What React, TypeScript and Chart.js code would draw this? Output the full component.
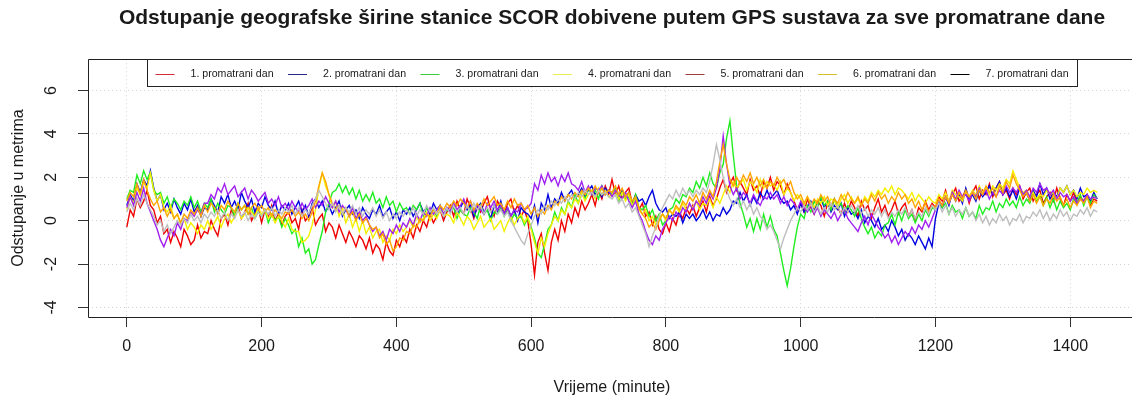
import { useEffect, useRef } from "react";
import { Chart, registerables } from "chart.js";

Chart.register(...registerables);

const CHART_TITLE =
  "Odstupanje geografske širine stanice SCOR dobivene putem GPS sustava za sve promatrane dane";
const X_TITLE = "Vrijeme (minute)";
const Y_TITLE = "Odstupanje u metrima";
const X_TICKS = [0, 200, 400, 600, 800, 1000, 1200, 1400];
const Y_TICKS = [-4, -2, 0, 2, 4, 6];
const X_MIN = -57.6;
const X_MAX = 1497.6;
const Y_MIN = -4.44;
const Y_MAX = 7.44;
const SAMPLE_STEP_MIN = 5;

const SERIES_LABELS = [
  "1. promatrani dan",
  "2. promatrani dan",
  "3. promatrani dan",
  "4. promatrani dan",
  "5. promatrani dan",
  "6. promatrani dan",
  "7. promatrani dan",
];
const LINE_COLORS = ["#f00000", "#0000e0", "#20ee20", "#f4f000", "#a020f0", "#ffa500", "#bebebe"];
const LEGEND_COLORS = ["#d8283c", "#2a2a8c", "#3acc3a", "#eeee50", "#a03c3c", "#d4c028", "#000000"];

// deviations in metres, one value every 5 minutes (0 ... 1440)
const DAY1 = [
  -0.3, 0.5, 0.2, 1.0, 0.6, 0.9, 1.4, 0.7, 0.5, -0.1, 0.2, -0.6, -0.4, -1.0, -0.5, -0.8, -1.2, -0.4, -0.7, -1.1, -0.9, -0.2, -0.8, -0.5,
  -0.6, 0.0, -0.4, -0.7, 0.1, 0.3, -0.2, 0.5, 0.2, 0.7, 0.1, 0.4, 0.8, 0.0, 0.3, 0.6, -0.1, 0.5, 0.2, 0.7, 0.0, 0.3, -0.2, 0.2,
  0.4, -0.1, 0.1, -0.4, 0.5, 0.0, 0.2, 0.6, -0.2, 0.1, 0.3, -0.5, -0.1, -0.3, -0.8, -0.2, -0.6, -1.0, -0.5, -0.8, -1.2, -0.7, -0.9, -1.3,
  -0.8, -1.5, -1.1, -1.3, -1.8, -1.0, -1.4, -1.6, -0.9, -1.2, -0.7, -1.0, -0.4, -0.8, -0.2, -0.5, 0.0, -0.3, 0.3, -0.1, 0.2, 0.5, 0.0, 0.4,
  0.7, 0.2, 0.9, 0.5, 0.3, 1.0, 0.6, 0.1, 0.7, 0.4, 0.8, 1.1, 0.5, 0.2, 0.9, 0.6, 0.3, 0.8, 1.0, 0.4, 0.7, 0.2, 0.5, 0.0,
  -1.1, -2.5, -1.0, -0.6, -1.5, -2.3, -1.0, -0.4, -0.9, 0.0, -0.5, 0.3, -0.1, 0.6, 0.2, 0.9, 0.5, 0.8, 1.2, 0.7, 1.4, 1.0, 1.6, 1.2,
  1.9, 1.2, 1.6, 1.0, 1.3, 1.5, 0.8, 1.1, 0.5, 0.8, 0.2, 0.4, -0.2, 0.2, -0.4, -0.6, -0.1, -0.5, 0.1, -0.2, 0.4, 0.1, 0.6, 0.3,
  0.7, 0.2, 0.6, 0.9, 0.4, 1.1, 0.7, 1.0, 1.5, 1.9, 1.3, 1.7, 2.0, 1.4, 1.8, 1.5, 1.2, 1.9, 1.4, 1.6, 1.1, 1.8, 1.5, 2.0,
  1.4, 1.8, 1.6, 1.2, 1.7, 1.3, 0.9, 0.5, 0.8, 0.4, 1.0, 0.6, 0.3, 0.9, 0.7, 0.2, 0.8, 0.5, 1.0, 0.6, 0.3, 0.8, 0.4, 0.9,
  0.6, 0.2, 0.9, 0.5, 0.7, 0.1, 0.6, 1.0, 0.4, 0.7, 0.2, 0.5, 0.9, 0.3, 0.6, 0.8, 0.2, 0.5, 0.0, 0.6, 0.4, 0.9, 0.5, 0.8,
  0.6, 1.1, 0.9, 1.4, 0.8, 1.2, 1.5, 0.9, 1.1, 1.4, 0.8, 1.3, 1.6, 1.0, 1.4, 1.2, 1.7, 1.1, 1.5, 1.8, 1.2, 1.4, 1.0, 1.5,
  1.2, 1.6, 1.0, 1.3, 1.5, 0.9, 1.2, 1.4, 0.8, 1.1, 1.3, 0.9, 1.5, 1.0, 0.7, 1.2, 0.9, 1.3, 0.8, 1.1, 0.9, 1.2, 0.7, 1.0,
  0.9,
];
const DAY2 = [
  0.7, 1.2, 0.9, 1.7, 1.3, 1.9, 1.6, 2.3, 1.5, 0.9, 1.2, 0.5, 0.8, 0.4, 1.0, 0.6, 0.3, 0.8, 0.5, 1.0, 0.4, 0.7, 0.2, 0.6,
  0.5, 1.0, 0.7, 0.4, 1.1, 0.8, 1.2, 0.6, 0.9, 0.5, 1.3, 0.9, 0.6, 1.0, 0.4, 0.8, 0.6, 1.1, 0.7, 0.5, 0.9, 0.3, 0.7, 0.5,
  0.8, 0.3, 0.6, 0.9, 0.4, 0.7, 0.2, 0.8, 1.0, 0.6, 0.9, 0.4, 0.7, 0.3, 0.6, 0.9, 0.2, 0.5, 0.7, 0.3, 0.5, 0.1, 0.6, 0.3,
  0.1, 0.5, 0.3, 0.7, 0.2, 0.4, 0.6, 0.1, 0.4, 0.0, 0.5, 0.3, 0.6, 0.2, 0.5, 0.8, 0.4, 0.6, 0.3, 0.8, 0.5, 0.7, 0.2, 0.6,
  0.4, 0.8, 0.3, 0.6, 0.9, 0.5, 0.7, 0.2, 0.6, 0.8, 0.4, 0.5, 0.1, 0.7, 0.4, 0.9, 0.3, 0.6, 0.2, 0.5, 0.0, 0.6, 0.4, 0.3,
  0.1, 0.7, -0.1, 0.8, 0.5, 1.2, 0.6, 1.0, 0.8, 1.3, 0.9, 1.2, 1.4, 1.0, 1.2, 1.5, 1.1, 1.4, 1.6, 1.2, 1.4, 1.1, 1.5, 1.3,
  1.2, 1.5, 1.0, 1.4, 1.1, 1.3, 0.8, 1.2, 0.9, 1.0, 0.7, 1.1, 1.4, 0.8, 0.5, 0.4, 0.6, 0.1, 0.3, 0.2, 0.4, -0.1, 0.3, 0.1,
  0.3, 0.0, 0.2, 0.5, 0.1, 0.4, 0.0, 0.3, 0.2, 0.6, 0.3, 0.5, 0.9, 0.8, 1.3, 0.9, 1.2, 0.7, 1.1, 0.8, 1.3, 1.0, 1.4, 1.0,
  1.2, 1.4, 1.0, 0.8, 0.9, 0.5, 0.7, 0.3, 0.8, 0.4, 0.6, 0.9, 0.5, 0.8, 1.0, 0.6, 0.9, 0.4, 0.7, 0.5, 0.8, 0.2, 0.6, 0.3,
  0.4, 0.1, 0.5, -0.1, 0.2, 0.0, -0.3, 0.1, -0.4, -0.2, -0.5, 0.0, -0.3, -0.7, -0.4, -0.9, -0.6, -0.8, -1.1, -0.7, -1.0, -1.3, -0.8, -1.2,
  0.1, 0.8, 0.6, 1.1, 0.7, 1.3, 0.9, 1.2, 0.8, 1.5, 1.0, 1.2, 0.9, 1.4, 1.1, 1.3, 1.6, 1.2, 1.5, 1.8, 1.2, 1.5, 1.1, 1.4,
  1.0, 1.5, 1.2, 1.3, 0.9, 1.4, 1.1, 1.7, 1.2, 1.5, 1.0, 1.3, 1.1, 1.5, 1.3, 1.6, 1.2, 1.4, 1.0, 1.5, 1.1, 1.2, 0.9, 1.3,
  1.0,
];
const DAY3 = [
  1.0, 1.4, 1.3, 2.1, 1.7, 2.3, 1.9, 2.2, 1.4, 1.2, 1.3, 0.8, 1.1, 0.6, 1.0, 0.8, 0.5, 0.9, 0.7, 1.1, 0.6, 0.9, 0.4, 0.8,
  0.6, 1.0, 0.4, 0.8, 0.5, 0.3, 0.7, 0.6, 0.2, 0.8, 0.5, 0.7, 0.3, 0.6, 0.1, 0.4, 0.2, 0.5, -0.1, 0.3, 0.0, 0.2, -0.3, 0.1,
  -0.2, -0.6, -0.4, -1.2, -0.8, -1.5, -1.3, -2.0, -1.8, -1.1, -0.5, 0.4, 0.8, 1.3, 1.4, 1.7, 1.3, 1.6, 1.2, 1.5, 1.0, 1.4, 0.9, 1.2,
  0.9, 1.3, 0.8, 1.0, 0.6, 1.1, 0.7, 0.9, 0.4, 0.8, 0.5, 0.6, 0.3, 0.7, 0.5, 0.8, 0.2, 0.6, 0.4, 0.5, 0.2, 0.7, 0.3, 0.5,
  0.4, 0.6, 0.1, 0.5, 0.3, 0.2, 0.6, 0.4, 0.1, 0.7, 0.3, 0.5, 0.0, 0.4, 0.3, 0.6, 0.2, 0.5, 0.0, 0.3, 0.1, 0.2, -0.2, 0.1,
  -0.3, -0.8, -1.5, -1.7, -1.1, -0.4, -0.2, 0.4, 0.0, 0.6, 0.3, 0.9, 0.6, 1.2, 0.8, 1.3, 1.0, 1.5, 1.2, 1.4, 1.0, 1.6, 1.2, 1.4,
  1.2, 1.5, 0.9, 1.3, 1.0, 1.1, 0.7, 1.2, 0.6, 0.5, 0.7, 0.2, 0.5, 0.0, 0.3, -0.2, 0.0, 0.5, 0.6, 1.0, 0.8, 1.2, 1.1, 1.5,
  1.3, 1.8, 1.5, 2.0, 1.6, 2.2, 1.7, 1.5, 2.2, 2.6, 3.8, 4.6, 3.0, 1.6, 0.8, 0.3, -0.3, 0.1, -0.5, 0.1, -0.4, 0.3, -0.3, 0.2,
  -0.4, -0.7, -1.5, -2.3, -3.0, -2.2, -1.2, -0.3, 0.3, 0.1, 0.7, 0.4, 0.9, 0.6, 1.1, 0.7, 0.9, 0.5, 1.0, 0.6, 0.8, 0.4, 0.7, 0.5,
  0.2, 0.6, 0.1, -0.3, -0.6, -0.3, -0.8, -0.5, -0.7, -0.2, -0.1, 0.3, -0.2, 0.4, 0.0, 0.5, 0.1, 0.3, -0.1, 0.3, 0.0, 0.5, 0.2, 0.6,
  0.5, 0.9, 0.6, 0.8, 0.3, 0.7, 0.4, 0.5, 0.1, 0.6, 0.2, 0.4, 0.1, 0.7, 0.3, 0.6, 0.5, 0.9, 0.4, 0.8, 0.6, 1.0, 0.7, 0.9,
  0.6, 1.1, 0.7, 1.0, 0.8, 1.3, 0.9, 1.2, 0.7, 1.1, 0.6, 1.0, 0.5, 0.9, 0.6, 0.8, 0.5, 1.0, 0.8, 1.2, 0.7, 1.1, 0.8, 1.2,
  1.0,
];
const DAY4 = [
  0.5, 1.1, 0.8, 1.5, 1.2, 1.8, 1.5, 2.2, 1.4, 0.9, 1.2, 0.6, 0.4, 0.7, 0.1, 0.3, -0.2, 0.1, -0.4, -0.1, -0.3, -0.6, -0.2, -0.4,
  0.0, -0.4, -0.1, 0.2, -0.3, 0.1, 0.3, -0.1, 0.2, 0.5, 0.1, 0.3, 0.6, 0.4, 0.2, 0.6, 0.3, 0.5, 0.1, 0.3, -0.1, 0.2, 0.0, -0.3,
  0.1, -0.4, -0.5, -0.5, -1.0, -0.9, -0.7, -0.2, 0.5, 1.5, 2.2, 1.6, 1.2, 0.6, 0.9, 0.2, 0.6, -0.1, 0.3, -0.3, 0.1, -0.5, 0.0, -0.6,
  -0.3, -0.8, -0.5, -0.4, -1.0, -0.7, -0.9, -0.4, -0.6, -0.2, -0.5, -0.3, 0.0, -0.3, 0.2, -0.1, 0.1, 0.4, 0.0, 0.3, 0.1, 0.5, 0.2, 0.3,
  0.2, -0.1, 0.4, 0.1, -0.2, 0.2, 0.0, -0.4, -0.1, 0.2, -0.3, -0.1, 0.1, -0.4, -0.2, 0.0, -0.5, -0.1, 0.2, -0.2, 0.1, 0.3, -0.1, 0.2,
  -0.4, -1.0, -1.5, -0.8, -1.2, -0.6, -0.2, 0.2, 0.0, 0.5, 0.3, 0.8, 0.6, 1.0, 0.8, 1.3, 0.9, 1.2, 1.4, 1.0, 1.5, 1.2, 1.4, 1.1,
  1.2, 1.4, 1.0, 1.3, 0.9, 1.2, 0.7, 1.0, 0.5, 0.3, 0.5, 0.0, 0.2, -0.2, 0.1, 0.3, 0.0, 0.5, 0.3, 0.6, 0.4, 0.8, 0.5, 0.7,
  0.6, 0.9, 0.5, 0.8, 0.7, 1.0, 0.6, 1.1, 0.8, 1.2, 1.6, 1.3, 1.8, 1.5, 1.7, 1.9, 1.4, 1.8, 1.6, 1.3, 1.9, 1.5, 1.8, 1.6,
  1.7, 1.4, 1.8, 1.2, 1.5, 1.3, 0.9, 1.2, 1.0, 0.7, 1.1, 0.8, 0.6, 1.0, 0.8, 1.1, 0.7, 1.0, 0.9, 0.6, 1.0, 1.2, 0.8, 1.1,
  0.8, 1.0, 0.7, 1.1, 0.9, 1.3, 1.1, 1.4, 1.2, 1.5, 1.3, 1.6, 1.2, 1.5, 1.4, 1.2, 1.0, 1.3, 0.9, 1.2, 1.0, 0.8, 1.1, 0.9,
  0.8, 1.2, 1.0, 1.3, 0.9, 1.4, 1.2, 1.1, 0.9, 1.3, 1.1, 1.4, 1.2, 1.6, 1.3, 1.5, 1.2, 1.6, 1.4, 1.7, 1.5, 1.9, 1.7, 2.3,
  1.9, 1.5, 1.3, 1.4, 1.1, 1.3, 1.0, 1.2, 1.1, 1.4, 1.2, 1.3, 1.0, 1.5, 1.3, 1.6, 1.2, 1.4, 1.1, 1.3, 1.2, 1.5, 1.3, 1.4,
  1.3,
];
const DAY5 = [
  0.6, 1.1, 0.7, 1.3, 0.9, 1.5, 0.8, 0.4, 0.0, -0.4, -0.9, -1.2, -0.8, -0.4, -0.7, -0.1, -0.4, 0.1, 0.0, 0.4, 0.2, 0.5, 0.3, 0.8,
  0.8, 1.2, 1.0, 1.5, 1.3, 1.7, 1.2, 1.4, 1.6, 1.1, 1.3, 1.5, 1.0, 1.4, 1.2, 0.9, 1.1, 1.3, 0.8, 1.0, 0.7, 1.1, 0.6, 0.8,
  0.5, 0.9, 0.6, 0.4, 0.8, 0.5, 0.7, 1.0, 0.6, 0.9, 0.7, 1.1, 0.8, 0.6, 0.9, 0.4, 0.7, 0.5, 0.2, 0.6, 0.1, 0.4, 0.0, 0.2,
  -0.2, -0.5, -0.3, -0.7, -0.5, -0.9, -0.4, -0.6, -0.2, -0.5, -0.1, -0.3, 0.1, -0.2, 0.3, 0.0, 0.4, 0.2, 0.6, 0.3, 0.5, 0.7, 0.3, 0.6,
  0.4, 0.8, 0.5, 0.7, 1.0, 0.6, 0.9, 0.4, 0.7, 0.5, 0.3, 0.8, 0.6, 0.9, 0.5, 0.7, 0.3, 0.6, 0.2, 0.5, 0.4, 0.8, 0.5, 0.6,
  0.8, 1.7, 1.4, 2.1, 1.7, 2.2, 1.8, 2.0, 1.6, 2.1, 1.8, 2.2, 1.7, 1.6, 1.4, 1.8, 1.3, 1.6, 1.2, 1.5, 1.4, 1.6, 1.2, 1.4,
  1.1, 1.4, 1.2, 1.0, 1.3, 0.9, 0.6, 0.9, 0.3, 0.0, -0.5, -0.9, -1.1, -0.7, -0.9, -0.4, -0.1, 0.2, 0.0, 0.4, 0.2, 0.6, 0.4, 0.8,
  0.5, 0.9, 0.7, 1.1, 0.8, 1.3, 1.0, 1.5, 2.4, 3.9, 2.6, 1.6, 1.2, 1.5, 1.0, 1.3, 1.1, 0.8, 1.2, 0.9, 0.7, 1.1, 1.0, 1.3,
  1.0, 1.2, 0.8, 1.1, 0.7, 1.0, 0.8, 0.5, 0.9, 0.6, 0.4, 0.7, 0.3, 0.6, 0.2, 0.5, 0.3, 0.1, 0.4, 0.0, 0.3, 0.5, 0.1, -0.1,
  -0.3, -0.5, -0.1, 0.2, -0.2, 0.3, 0.0, -0.3, -0.5, -0.8, -0.6, -1.0, -0.7, -1.1, -0.8, -0.5, -0.7, -0.3, -0.6, -0.2, -0.4, 0.0, -0.3, 0.1,
  0.5, 0.9, 0.7, 1.1, 0.8, 1.3, 1.0, 1.4, 1.1, 1.2, 0.9, 1.3, 1.1, 1.5, 1.2, 1.4, 1.0, 1.3, 1.1, 1.4, 1.2, 1.6, 1.3, 1.5,
  1.3, 1.6, 1.2, 1.4, 1.1, 1.5, 1.3, 1.7, 1.4, 1.5, 1.2, 1.4, 1.0, 1.3, 1.1, 1.2, 0.9, 1.1, 0.8, 1.0, 0.9, 1.2, 1.0, 1.1,
  1.0,
];
const DAY6 = [
  0.9, 1.3, 1.1, 1.7, 1.2, 1.9, 1.4, 1.0, 0.7, 0.9, 0.4, 0.6, 0.2, 0.5, 0.1, 0.3, -0.1, 0.3, 0.1, 0.5, 0.3, 0.6, 0.2, 0.7,
  0.4, 0.8, 0.6, 0.3, 0.7, 0.5, 0.9, 0.6, 0.4, 0.8, 0.5, 0.7, 0.3, 0.6, 0.8, 0.5, 0.7, 0.4, 0.6, 0.2, 0.5, 0.3, 0.1, 0.4,
  0.3, 0.5, 0.2, 0.4, 0.1, 0.3, 0.0, 0.4, 0.9, 1.6, 2.2, 1.8, 1.2, 0.8, 0.5, 0.7, 0.3, 0.6, 0.2, 0.4, 0.0, 0.3, -0.1, 0.1,
  -0.2, -0.4, -0.3, -0.8, -0.6, -1.1, -0.9, -1.4, -1.2, -0.8, -0.9, -0.5, -0.6, -0.2, -0.3, 0.1, 0.0, 0.3, 0.2, 0.5, 0.3, 0.7, 0.5, 0.8,
  0.6, 0.9, 0.7, 1.0, 0.8, 0.6, 0.9, 0.5, 0.8, 0.6, 1.0, 0.7, 0.9, 1.1, 0.7, 0.8, 0.5, 0.9, 0.6, 1.0, 0.7, 0.8, 0.5, 0.7,
  0.3, 0.6, 0.2, 0.5, 0.3, 0.7, 0.5, 0.9, 0.7, 1.1, 0.9, 1.2, 1.0, 1.3, 1.1, 1.4, 1.2, 1.5, 1.3, 1.6, 1.3, 1.5, 1.2, 1.4,
  1.3, 1.6, 1.2, 1.5, 1.1, 1.3, 0.9, 1.1, 0.6, 0.3, 0.1, -0.3, -0.1, -0.4, 0.0, 0.3, 0.1, 0.5, 0.3, 0.7, 0.5, 0.9, 0.7, 1.1,
  0.9, 1.2, 0.8, 1.3, 1.0, 1.4, 1.1, 1.8, 2.7, 3.5, 2.6, 1.9, 1.6, 2.0, 1.7, 2.1, 1.8, 2.2, 1.7, 2.0, 1.6, 1.9, 1.5, 1.8,
  1.6, 2.0, 1.7, 1.9, 1.5, 1.8, 1.3, 1.0, 1.2, 0.8, 1.1, 0.7, 1.0, 0.8, 1.2, 0.9, 1.1, 0.7, 1.0, 0.8, 1.2, 0.9, 1.3, 1.0,
  0.8, 1.1, 0.7, 1.0, 0.8, 1.2, 0.9, 1.3, 1.0, 1.2, 0.8, 1.1, 0.9, 1.3, 1.0, 1.2, 0.8, 1.0, 0.6, 0.9, 0.5, 0.8, 0.4, 0.7,
  0.6, 1.0, 0.7, 1.1, 0.8, 1.2, 0.9, 1.3, 1.0, 1.4, 1.1, 1.3, 1.0, 1.4, 1.2, 1.6, 1.3, 1.5, 1.1, 1.6, 1.3, 1.8, 1.5, 2.1,
  1.7, 1.4, 1.1, 1.3, 0.9, 1.2, 0.8, 1.1, 0.7, 1.0, 0.8, 1.2, 0.9, 1.1, 0.7, 1.0, 0.6, 0.9, 0.7, 1.0, 0.8, 1.1, 0.6, 0.9,
  0.8,
];
const DAY7 = [
  0.4, 0.8, 0.5, 1.0, 0.7, 1.2, 0.8, 0.5, 0.2, -0.2, 0.0, -0.5, -0.2, -0.6, -0.3, 0.0, -0.2, 0.1, -0.1, 0.3, 0.0, 0.2, -0.1, 0.3,
  0.1, 0.4, 0.2, 0.5, 0.1, 0.4, 0.0, 0.3, 0.1, 0.5, 0.2, 0.4, 0.0, 0.3, 0.1, 0.4, 0.2, 0.5, 0.3, 0.6, 0.2, 0.5, 0.3, 0.6,
  0.4, 0.7, 0.3, 0.6, 0.2, 0.5, 0.3, 0.7, 1.0, 1.4, 1.1, 0.8, 0.5, 0.8, 0.4, 0.7, 0.3, 0.6, 0.4, 0.7, 0.3, 0.6, 0.2, 0.5,
  0.3, 0.6, 0.2, 0.5, 0.1, 0.4, 0.0, 0.3, 0.1, 0.4, 0.2, 0.5, 0.3, 0.6, 0.2, 0.5, 0.3, 0.7, 0.4, 0.6, 0.3, 0.5, 0.2, 0.6,
  0.3, 0.7, 0.4, 0.6, 0.3, 0.7, 0.4, 0.8, 0.5, 0.7, 0.3, 0.6, 0.4, 0.7, 0.3, 0.5, 0.2, 0.4, 0.0, -0.3, -0.6, -0.9, -1.1, -0.6,
  -0.2, 0.2, 0.5, 0.3, 0.7, 0.5, 0.9, 0.7, 1.0, 0.8, 1.1, 0.9, 1.2, 1.0, 1.3, 1.1, 1.4, 1.2, 1.3, 1.1, 1.4, 1.2, 1.3, 1.1,
  1.0, 1.2, 0.8, 1.0, 0.6, 0.8, 0.4, 0.6, 0.2, -0.2, -0.6, -1.2, -0.7, -0.3, 0.2, 0.6, 0.9, 1.2, 1.0, 1.4, 1.1, 1.5, 1.2, 1.4,
  1.1, 1.4, 1.2, 1.5, 1.3, 1.8, 2.6, 3.5, 2.8, 2.0, 1.4, 1.0, 0.7, 1.0, 0.6, 0.9, 0.5, 0.8, 0.3, 0.6, 0.2, 0.0, -0.4, -0.2,
  -0.5, -0.9, -1.3, -0.8, -0.4, 0.0, 0.3, 0.6, 0.4, 0.7, 0.5, 0.8, 0.4, 0.7, 0.3, 0.6, 0.4, 0.8, 0.5, 0.7, 0.3, 0.6, 0.4, 0.7,
  0.4, 0.7, 0.3, 0.6, 0.2, 0.5, 0.3, 0.6, 0.2, 0.5, 0.1, 0.4, 0.2, 0.5, 0.3, 0.6, 0.2, 0.5, 0.1, 0.4, 0.2, 0.6, 0.3, 0.7,
  0.5, 0.8, 0.4, 0.7, 0.3, 0.6, 0.2, 0.5, 0.3, 0.6, 0.2, 0.4, 0.0, 0.3, -0.1, 0.2, -0.2, 0.1, -0.1, 0.3, 0.0, 0.2, -0.2, 0.1,
  0.0, 0.3, -0.1, 0.2, 0.1, 0.4, 0.2, 0.5, 0.1, 0.4, 0.0, 0.3, 0.1, 0.5, 0.2, 0.4, 0.0, 0.3, 0.2, 0.5, 0.3, 0.6, 0.2, 0.5,
  0.4,
];

const SERIES = [DAY1, DAY2, DAY3, DAY4, DAY5, DAY6, DAY7];

const FONT = "'Liberation Sans', Arial, Helvetica, sans-serif";
const TEXT_COLOR = "#1a1a1a";

const framePlugin = {
  id: "rFrameAndLegend",
  afterDraw(chart: any) {
    const { ctx, chartArea: a } = chart;
    ctx.save();
    // plot box (its right side lies beyond the visible picture)
    const L = Math.round(a.left) + 0.5;
    const T = Math.round(a.top) + 0.5;
    const B = Math.round(a.bottom) + 0.5;
    const R = Math.round(a.right) + 0.5;
    ctx.strokeStyle = "#222";
    ctx.lineWidth = 1;
    ctx.beginPath();
    ctx.moveTo(R, T);
    ctx.lineTo(L, T);
    ctx.lineTo(L, B);
    ctx.lineTo(R, B);
    ctx.stroke();
    // legend box (top, centred on the plot region)
    const w = 930;
    const h = 27;
    const lx = Math.round((a.left + a.right) / 2 - w / 2) + 0.5;
    const ly = T;
    ctx.fillStyle = "#fff";
    ctx.fillRect(lx, ly, w, h);
    ctx.strokeRect(lx, ly, w, h);
    ctx.font = `10.6px ${FONT}`;
    ctx.textBaseline = "middle";
    ctx.textAlign = "left";
    const stride = 132.5;
    const cy = ly + h / 2 + 1;
    SERIES_LABELS.forEach((lab, i) => {
      const x0 = lx + 8 + stride * i;
      ctx.strokeStyle = LEGEND_COLORS[i];
      ctx.lineWidth = 1;
      ctx.beginPath();
      ctx.moveTo(x0, Math.round(cy) + 0.5);
      ctx.lineTo(x0 + 19, Math.round(cy) + 0.5);
      ctx.stroke();
      ctx.fillStyle = TEXT_COLOR;
      ctx.fillText(lab, x0 + 35, cy);
    });
    ctx.restore();
  },
};

export default function App() {
  const ref = useRef<HTMLCanvasElement | null>(null);

  useEffect(() => {
    if (!ref.current) return;
    const datasets = SERIES.map((vals, i) => ({
      label: SERIES_LABELS[i],
      data: vals.map((v, k) => ({ x: k * SAMPLE_STEP_MIN, y: v })),
      borderColor: LINE_COLORS[i],
      backgroundColor: LINE_COLORS[i],
      borderWidth: 1.4,
      pointRadius: 0,
      tension: 0,
      fill: false,
      order: SERIES.length - i,
    }));

    const chart = new Chart(ref.current, {
      type: "line",
      data: { datasets },
      plugins: [framePlugin],
      options: {
        responsive: false,
        animation: false,
        devicePixelRatio: 1,
        events: [],
        layout: { padding: { left: 0, right: 24, top: 0, bottom: 0 } },
        plugins: {
          legend: { display: false },
          tooltip: { enabled: false },
          title: {
            display: true,
            text: CHART_TITLE,
            fullSize: false,
            color: TEXT_COLOR,
            font: { family: FONT, size: 21, weight: "bold", lineHeight: 1.2 },
            padding: { top: 6, bottom: 28 },
          },
        },
        scales: {
          x: {
            type: "linear",
            min: X_MIN,
            max: X_MAX,
            afterBuildTicks: (scale: any) => {
              scale.ticks = X_TICKS.map((v) => ({ value: v }));
            },
            afterFit: (scale: any) => {
              scale.height = 86;
            },
            ticks: {
              color: TEXT_COLOR,
              font: { family: FONT, size: 16 },
              padding: 10,
              maxRotation: 0,
              autoSkip: false,
              callback: (v: any) => String(v),
            },
            grid: {
              color: "#d3d3d3",
              lineWidth: 1,
              drawTicks: true,
              tickLength: 10,
              tickColor: "#333",
              tickWidth: 1,
              tickBorderDash: [],
            },
            border: { display: false, dash: [1, 3] },
            title: {
              display: true,
              text: X_TITLE,
              color: TEXT_COLOR,
              font: { family: FONT, size: 16 },
              padding: { top: 6, bottom: 6 },
            },
          },
          y: {
            type: "linear",
            min: Y_MIN,
            max: Y_MAX,
            afterBuildTicks: (scale: any) => {
              scale.ticks = Y_TICKS.map((v) => ({ value: v }));
            },
            afterFit: (scale: any) => {
              scale.width = 88;
            },
            ticks: {
              color: TEXT_COLOR,
              font: { family: FONT, size: 16 },
              padding: 19,
              minRotation: 90,
              maxRotation: 90,
              crossAlign: "center",
              autoSkip: false,
              callback: (v: any) => String(v),
            },
            grid: {
              color: "#d3d3d3",
              lineWidth: 1,
              drawTicks: true,
              tickLength: 10,
              tickColor: "#333",
              tickWidth: 1,
              tickBorderDash: [],
            },
            border: { display: false, dash: [1, 3] },
            title: {
              display: true,
              text: Y_TITLE,
              color: TEXT_COLOR,
              font: { family: FONT, size: 16 },
              padding: { top: 9, bottom: 0 },
            },
          },
        },
      } as any,
    });
    return () => chart.destroy();
  }, []);

  return (
    <div style={{ position: "absolute", left: 0, top: 0, width: 1132, height: 403, overflow: "hidden", background: "#fff" }}>
      <canvas ref={ref} width={1160} height={403} style={{ width: 1160, height: 403, display: "block" }} />
    </div>
  );
}
